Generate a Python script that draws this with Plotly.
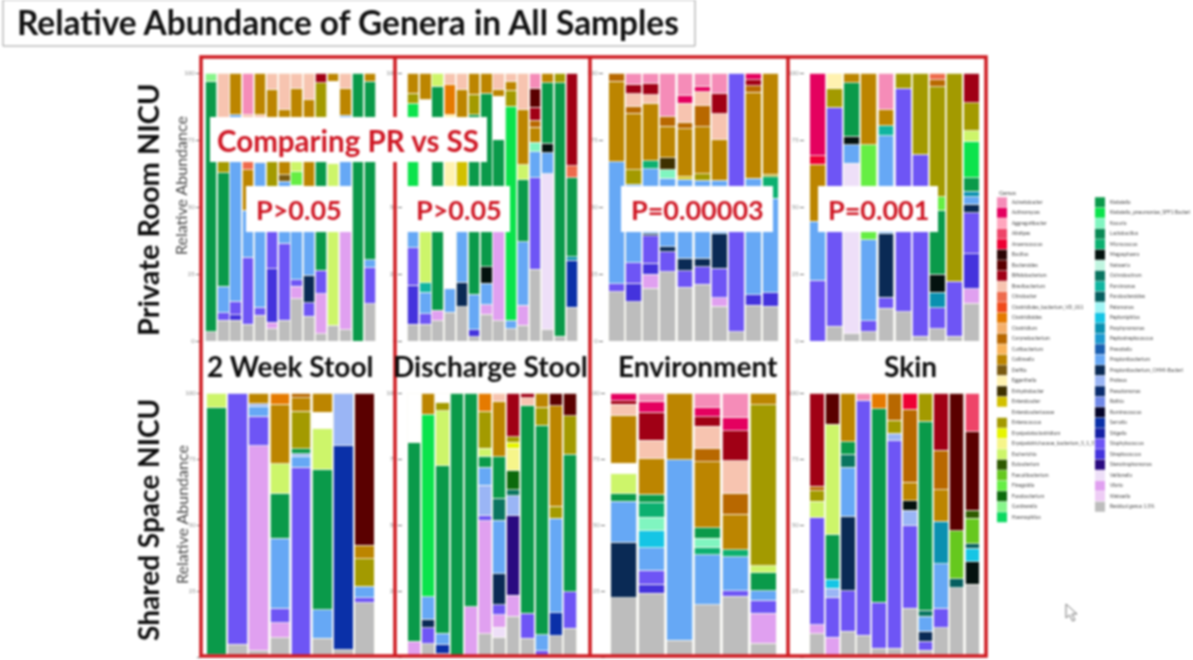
import plotly.graph_objects as go

# ---------- genera (legend order) ----------
GENERA_LEFT = ["Acinetobacter", "Actinomyces", "Aggregatibacter", "Alistipes", "Anaerococcus", "Bacillus",
               "Bacteroides", "Bifidobacterium", "Brevibacterium", "Citrobacter", "Clostridiales_bacterium_VD_011",
               "Clostridioides", "Clostridium", "Corynebacterium", "Cutibacterium", "Collinsella", "Delftia",
               "Eggerthella", "Enhydrobacter", "Enterobacter", "Enterobacteriaceae", "Enterococcus",
               "Erysipelatoclostridium", "Erysipelotrichaceae_bacterium_5_1_57", "Escherichia", "Eubacterium",
               "Faecalibacterium", "Finegoldia", "Fusobacterium", "Gardnerella", "Haemophilus"]
GENERA_RIGHT = ["Klebsiella", "Klebsiella_pneumoniae_SFF1 Bacteri", "Kocuria", "Lactobacillus", "Micrococcus",
                "Megasphaera", "Neisseria", "Ochrobactrum", "Parvimonas", "Parabacteroides", "Pelomonas",
                "Peptoniphilus", "Porphyromonas", "Peptostreptococcus", "Prevotella", "Propionibacterium",
                "Propionibacterium_CHMI-Bacteri", "Proteus", "Pseudomonas", "Rothia", "Ruminococcus", "Serratia",
                "Shigella", "Staphylococcus", "Streptococcus", "Stenotrophomonas", "Veillonella", "Vibrio",
                "Weissella", "Residual genus 1.5%"]
COLORS_LEFT = ["#F58CB8", "#E4005F", "#FFA6BE", "#EE4468", "#EE0033", "#2A0505", "#5A0000", "#A00015", "#F7C4B0",
               "#EE6B4C", "#F04A1A", "#E57A00", "#F5B06C", "#B86800", "#F9B45A", "#BC8500", "#7A5A10", "#FFF2B0",
               "#3E3000", "#D2C000", "#FFFFFF", "#A39A00", "#E6F500", "#F6F58A", "#CDF56A", "#2E5A00", "#66C81E",
               "#66EE44", "#0C6A0C", "#88F58C", "#0BD960"]
COLORS_RIGHT = ["#0A9A4A", "#0BE34C", "#80F5C0", "#0A8A55", "#0CB070", "#04120F", "#C0F5E0", "#0A7560", "#10B5A0",
                "#065F5F", "#A0F5F5", "#15C5E5", "#0A90B0", "#1E9AD0", "#1A5FB0", "#66A8F5", "#0A2A55", "#9AB5F5",
                "#0A2C6E", "#7088E8", "#04042A", "#0A30A8", "#1520A5", "#6E55F5", "#4433DD", "#2A0A80", "#EEDFF8",
                "#E0A0F0", "#EECCF5", "#BDBDBD"]
GENUS_COLOR = dict(zip(GENERA_LEFT + GENERA_RIGHT, COLORS_LEFT + COLORS_RIGHT))

# short names for the genera used in the stacks below
PK, AC, AL, AN, DR, CR, PE, CI, OR, BW, GO, DL = ("Acinetobacter", "Actinomyces", "Alistipes", "Anaerococcus",
    "Bacteroides", "Bifidobacterium", "Brevibacterium", "Citrobacter", "Clostridioides", "Corynebacterium",
    "Collinsella", "Delftia")
EG, EH, EB, WH, OL, EC, EY, LM, EU, FA, FI, FU, GA = ("Eggerthella", "Enhydrobacter", "Enterobacter",
    "Enterobacteriaceae", "Enterococcus", "Erysipelatoclostridium", "Erysipelotrichaceae_bacterium_5_1_57",
    "Escherichia", "Eubacterium", "Faecalibacterium", "Finegoldia", "Fusobacterium", "Gardnerella")
GR, BR, MT, MI, BK, PM, OC, PA, PB, PC, CY, TB = ("Klebsiella", "Klebsiella_pneumoniae_SFF1 Bacteri", "Kocuria",
    "Micrococcus", "Megasphaera", "Neisseria", "Ochrobactrum", "Parvimonas", "Parabacteroides", "Pelomonas",
    "Peptoniphilus", "Porphyromonas")
BL, NV, PW, RO, RU, SE, PU, IN, DI, PL, LV, GY = ("Propionibacterium", "Propionibacterium_CHMI-Bacteri", "Proteus",
    "Rothia", "Ruminococcus", "Serratia", "Staphylococcus", "Streptococcus", "Stenotrophomonas", "Veillonella",
    "Vibrio", "Residual genus 1.5%")

# ---------- stacks: each bar lists (genus, abundance) from the bottom up ----------
PR_STOOL_2WK = [
    [(GY, 3.5), (GR, 93.5), (GA, 3)],
    [(GY, 7.7), (PU, 2.7), (BL, 10), (GR, 42), (OL, 4), (GO, 10.5), (PE, 22.5)],
    [(GY, 7.7), (IN, 2), (PU, 5), (BL, 69.5), (GO, 15.5)],
    [(GY, 6.2), (PU, 25), (BL, 17.5), (GO, 15), (CI, 3), (PE, 17.5), (PK, 15.6)],
    [(GY, 9.6), (PU, 3), (BL, 54), (PE, 17.8), (GO, 15.6)],
    [(GY, 4.6), (LV, 2.5), (IN, 20), (PU, 13.7), (BL, 17), (OL, 9.4), (GO, 27), (PE, 6)],
    [(GY, 7.7), (PU, 28.7), (BL, 23), (DL, 2.5), (GO, 24.1), (PE, 13.7)],
    [(GY, 15.8), (LV, 4.6), (PU, 2.5), (BL, 35.3), (FI, 5), (LM, 3.7), (GO, 27.5), (PE, 5.6)],
    [(GY, 9.2), (PU, 5), (NV, 10.3), (BL, 33), (GO, 32.4), (PE, 10)],
    [(GY, 2.7), (LV, 15), (PU, 8.7), (GR, 40.5), (OL, 29.3), (CR, 3.7)],
    [(GY, 5.9), (LM, 60.5), (WH, 30.5), (GO, 3.1)],
    [(GY, 4.2), (LV, 36.5), (BL, 43), (GO, 10), (PE, 5.6)],
    [(GR, 100)],
    [(GY, 13.7), (PU, 13.3), (BL, 3), (GR, 66), (GO, 3)],
]
PR_STOOL_DIS = [
    [(GY, 6.2), (IN, 14.6), (PU, 14), (BL, 5.9), (BR, 48), (OL, 3.7), (GO, 7.5)],
    [(GY, 6.2), (PU, 4), (BL, 8), (PA, 3.4), (LM, 19), (WH, 49), (GO, 10)],
    [(GY, 7.5), (LV, 4), (GR, 83.5), (LM, 5)],
    [(GY, 10.8), (BL, 8.7), (WH, 21.2), (EG, 43.6), (OR, 11.2), (PE, 4.4)],
    [(GY, 12.7), (NV, 9), (BL, 30), (EB, 15), (GO, 26.5), (PE, 6)],
    [(GY, 1.5), (IN, 2.7), (BL, 13.2), (GR, 67), (OL, 7.5), (GO, 8)],
    [(GY, 10), (LV, 3.4), (BL, 8), (BK, 6.2), (GR, 64.2), (GO, 7.5)],
    [(GY, 7.5), (LV, 33.3), (GR, 34.3), (WH, 16.2), (GO, 2.7), (PE, 6)],
    [(GY, 4.6), (BL, 3.1), (BR, 79.8), (OL, 6), (GO, 3.4), (PE, 3)],
    [(GY, 5.9), (LV, 7.5), (BL, 23.7), (GR, 23), (LM, 5.6), (GO, 20.8), (PE, 13.5)],
    [(GY, 26.5), (PU, 33.7), (BL, 9.6), (MT, 3.5), (GO, 5.6), (BW, 2.6), (CR, 4.7), (DR, 7.1), (PK, 5.6)],
    [(GY, 4.2), (PL, 57.7), (BL, 7.9), (BK, 3.4), (GR, 22.4), (GO, 3.7)],
    [(GY, 1.7), (GR, 93.9), (OL, 3.7)],
    [(GY, 12.5), (SE, 17.5), (TB, 1.2), (GR, 29.2), (CI, 4.6), (CR, 34.3)],
]
PR_ENV = [
    [(GY, 18.3), (PU, 3.1), (BL, 45.5), (GO, 29.9), (BW, 3.1)],
    [(GY, 14.6), (IN, 6.9), (PU, 7.5), (BL, 29.3), (OL, 5.4), (GO, 21), (BW, 2.5), (PE, 4.6), (CR, 3.7), (PK, 4.1)],
    [(GY, 19.6), (LV, 5.4), (IN, 4), (PU, 10.2), (NV, 1), (BL, 24), (MI, 3.1), (GO, 21.4), (PE, 3.1), (CR, 4.1), (PK, 4.1)],
    [(GY, 25.8), (PU, 7.5), (NV, 1.9), (BL, 25.6), (MT, 3.1), (EH, 4.4), (GO, 11.8), (BW, 3.7), (PK, 16.2)],
    [(GY, 20), (PU, 6.2), (NV, 4.7), (BL, 29.4), (EB, 1.2), (GO, 17.7), (BW, 2.5), (PE, 7.1), (AC, 2.7), (PK, 8.5)],
    [(GY, 21.2), (PU, 6.5), (NV, 3.2), (BL, 29), (OL, 2.5), (GO, 17.5), (BW, 7.9), (PE, 5.2), (AC, 2), (PK, 5)],
    [(GY, 13), (LV, 3.1), (PU, 11), (NV, 12.8), (BL, 20), (GO, 15.2), (PE, 9.6), (CR, 7.5), (PK, 7.7)],
    [(GY, 3.4), (PU, 96.6)],
    [(GY, 13.3), (IN, 4), (BL, 43.5), (GO, 32), (BW, 2.5), (CR, 2.2), (AC, 2.5)],
    [(GY, 13), (IN, 5), (BL, 35.2), (MI, 8.1), (OL, 1), (GO, 37.7)],
]
PR_SKIN = [
    [(PU, 22.7), (BL, 22), (GO, 21.2), (AN, 3.1), (AC, 30.9)],
    [(GY, 5.5), (PU, 81.7), (OL, 7), (EG, 5.8)],
    [(GY, 2.7), (PL, 63.6), (BL, 6.9), (BK, 3.2), (GR, 19.8), (GO, 3.7)],
    [(GY, 3.4), (PU, 4.1), (BL, 30.3), (FI, 35.5), (GO, 26.7)],
    [(GY, 12.1), (PU, 4.2), (NV, 23.7), (BL, 36.3), (PA, 3.7), (GO, 6), (PK, 13.7)],
    [(GY, 10.8), (PU, 83), (OL, 5.6)],
    [(GY, 1.7), (PU, 68), (OL, 30.3)],
    [(GY, 4.6), (PU, 7.7), (TB, 5.7), (BK, 6.6), (GR, 23.7), (FI, 5), (OL, 40.7), (BW, 2.5), (CI, 2.5)],
    [(GY, 1.7), (PU, 20.6), (OL, 77.7)],
    [(GY, 14), (LV, 5.4), (IN, 13), (PU, 15.3), (NV, 3.1), (BL, 2.9), (TB, 2), (GR, 5), (BR, 13.5), (LM, 4), (OL, 10.4), (CR, 11)],
]
SS_STOOL_2WK = [
    [(GY, 1), (GR, 93.5), (LM, 5.5)],
    [(GY, 4.8), (PU, 95)],
    [(GY, 2.3), (LV, 77.3), (PU, 11), (BL, 3.8), (PW, 1), (GO, 4)],
    [(GY, 7.3), (LV, 5.7), (PU, 5.4), (BL, 26.5), (GR, 17), (LM, 11.1), (GO, 22.5), (OR, 4.3)],
    [(PU, 70.7), (BL, 4.2), (PW, 0.8), (GR, 1.9), (OL, 14), (GO, 5), (BW, 1.8)],
    [(GY, 6.9), (BL, 10.6), (GR, 52.2), (LM, 15.2), (WH, 5.9), (GO, 7.2)],
    [(GY, 2.8), (SE, 76.4), (PW, 19.8)],
    [(GY, 20), (PU, 1.9), (BL, 4.3), (OL, 10.1), (GO, 5), (DR, 56.4)],
]
SS_STOOL_DIS = [
    [(LV, 6), (GR, 75.4), (WH, 18.6)],
    [(GY, 5), (PU, 5.9), (NV, 3.2), (BL, 8.2), (BR, 67.9), (GO, 7.8)],
    [(GY, 1.3), (SE, 3.5), (BL, 4), (GR, 62.8), (LM, 20.6), (OL, 3.2), (WH, 3.4)],
    [(GR, 100)],
    [(LV, 18.9), (GR, 80.8)],
    [(GY, 8.6), (LV, 41.9), (PU, 2.1), (PW, 11), (BL, 6.7), (GR, 4.2), (LM, 3), (OL, 13.6), (OR, 6.8)],
    [(GY, 7.3), (PL, 3.8), (LV, 4.5), (PU, 3.8), (NV, 11.4), (BL, 19.8), (OC, 8.2), (GR, 15.4), (GO, 20.6), (PE, 3)],
    [(GY, 14.9), (LV, 7.6), (DI, 29), (PW, 7.2), (OC, 2.3), (FU, 7.1), (EY, 8), (EC, 2.1), (OL, 2.1), (CR, 15.9)],
    [(GY, 6.9), (PU, 9.3), (GR, 77.4), (PE, 2.9), (CR, 1.8)],
    [(PU, 2.3), (BL, 6), (GR, 77.4), (OL, 6.7), (GO, 5.3)],
    [(GY, 7.8), (SE, 8.5), (BL, 34.7), (OL, 4.4), (GO, 37), (DR, 4.7)],
    [(GY, 10.7), (PU, 13.5), (GR, 51), (OL, 14.1), (DR, 8.5)],
]
SS_ENV = [
    [(GY, 21.5), (NV, 20.2), (BL, 14.8), (GR, 2.8), (LM, 7.2), (WH, 3.8), (GO, 17.4), (PE, 4), (CR, 1.3), (AC, 2.8)],
    [(GY, 22.7), (IN, 3.3), (PU, 5), (BL, 8), (CY, 6.1), (MT, 4.8), (MI, 5.4), (GR, 2.8), (GO, 12.6), (PE, 6.7), (CR, 10), (AC, 3.8), (PK, 3)],
    [(GY, 6.3), (BL, 67.5), (GO, 24.9)],
    [(GY, 18.9), (BL, 18), (MI, 2.8), (MT, 3.2), (GR, 3.8), (GO, 24), (BW, 4.7), (PE, 8), (CR, 3.5), (AC, 3.3), (PK, 5.3)],
    [(GY, 22), (PU, 2.1), (BL, 12.2), (MI, 2.5), (GO, 13), (BW, 7.6), (PE, 11.7), (CR, 11), (AC, 4.8), (PK, 8.8)],
    [(GY, 5), (LV, 10.9), (PU, 4.8), (BL, 3.4), (GR, 6.6), (LM, 2.5), (OL, 58.7), (GO, 4.3)],
]
SS_SKIN = [
    [(GY, 8.6), (LV, 3.3), (PU, 39.5), (LM, 5.9), (OL, 4), (BW, 1.6), (CR, 34.3)],
    [(LV, 7.2), (PU, 14.5), (PW, 3.4), (CY, 3.2), (GR, 16.4), (LM, 40), (DR, 11.4)],
    [(GY, 9.5), (PU, 14.8), (NV, 27.5), (BL, 18), (OC, 4.7), (GR, 4.7), (GO, 17.9)],
    [(GY, 8.2), (PU, 88), (PK, 2.8)],
    [(GY, 3.2), (PU, 17.3), (GR, 72.2), (OR, 5.9)],
    [(GY, 3.2), (PU, 77), (PW, 2.9), (OL, 4.8), (BW, 10.1)],
    [(GY, 17.9), (PU, 30.3), (PW, 5.7), (BK, 3.4), (GO, 6.9), (BW, 26.8), (AN, 5.9)],
    [(GY, 2.5), (PU, 3.3), (NV, 3.8), (BL, 5.4), (OC, 2.3), (GR, 69.8), (OL, 10.4)],
    [(GY, 10.7), (PU, 7.2), (BL, 16.2), (TB, 15.5), (GO, 11.6), (BW, 14.4), (CR, 21)],
    [(GY, 25.9), (PB, 3.4), (FA, 17.9), (DR, 51.4)],
    [(GY, 26.5), (BK, 8.3), (CY, 5), (PB, 1.6), (FA, 9.2), (EU, 3), (DR, 28.7), (AL, 14.1)],
]

COLUMN_LABELS = ["2 Week Stool", "Discharge Stool", "Environment", "Skin"]
ROW_LABELS = ["Private Room NICU", "Shared Space NICU"]
P_LABELS = ["P>0.05", "P>0.05", "P=0.00003", "P=0.001"]
COMPARE_LABEL = "Comparing PR vs SS"
TITLE = "Relative Abundance of Genera in All Samples"
Y_TICKS = [0, 25, 50, 75, 100]

# ---------- page layout (pixels) ----------
W, H = 1193, 660
RED = "#CE1A20"
LABEL_RED = "#CF1724"
SANS = "Lato, 'Open Sans', sans-serif"


def fx(px):
    return px / W


def fy(py):
    return 1 - py / H


PANELS = [
    (PR_STOOL_2WK, 205, 376, 73, 341), (PR_STOOL_DIS, 407, 578, 73, 341),
    (PR_ENV, 608, 779, 73, 341), (PR_SKIN, 809, 980, 73, 341),
    (SS_STOOL_2WK, 206, 375, 393, 657), (SS_STOOL_DIS, 407, 577, 393, 657),
    (SS_ENV, 610, 777, 393, 657), (SS_SKIN, 809, 980, 393, 657),
]

fig = go.Figure()
layout = dict(
    width=W, height=H, margin=dict(l=0, r=0, t=0, b=0, pad=0, autoexpand=False), paper_bgcolor="white",
    plot_bgcolor="white", barmode="stack", barnorm="percent", bargap=0.07, showlegend=False, font=dict(family=SANS),
)

for idx, (bars, left, right, top, bottom) in enumerate(PANELS, start=1):
    n = len(bars)
    step = (right - left) / n
    pad = 4  # room between the axis and the first bar
    xname, yname = f"x{idx}", f"y{idx}"
    # the second upper panel's 75 label sits underneath the white "Comparing" box
    tick_text = ["" if (idx == 2 and t == 75) else str(t) for t in Y_TICKS]
    layout[f"xaxis{idx}"] = dict(domain=[fx(left - pad), fx(right)], range=[-0.5 - pad / step, n - 0.5], visible=False,
                                 anchor=yname, fixedrange=True)
    layout[f"yaxis{idx}"] = dict(domain=[fy(bottom), fy(top)], range=[0, 100], tickvals=Y_TICKS, ticktext=tick_text,
                                 anchor=xname, ticks="outside", ticklen=4, tickwidth=1, tickcolor="#777",
                                 showgrid=False, zeroline=False, showline=False,
                                 tickfont=dict(size=6, color="#8a8a8a"), fixedrange=True)
    for layer in range(max(len(b) for b in bars)):
        xs, ys, cs, names = [], [], [], []
        for i, bar in enumerate(bars):
            if layer < len(bar):
                genus, value = bar[layer]
                xs.append(i)
                ys.append(value)
                cs.append(GENUS_COLOR[genus])
                names.append(genus)
        fig.add_trace(go.Bar(x=xs, y=ys, xaxis=xname, yaxis=yname, customdata=names,
                             marker=dict(color=cs, line=dict(color="#FBFBF4", width=0.8)),
                             hovertemplate="%{customdata}: %{y:.1f}%<extra></extra>"))

# legend drawn as its own little scatter panel
ROW_PITCH = 10.5
LEG_TOP = 197
layout["xaxis9"] = dict(domain=[fx(990), fx(1193)], range=[990, 1193], visible=False, anchor="y9", fixedrange=True)
layout["yaxis9"] = dict(domain=[fy(525), fy(LEG_TOP)], range=[(525 - LEG_TOP) / ROW_PITCH - 0.5, -0.5], visible=False,
                        anchor="x9", fixedrange=True)
for names, colors, x in ((GENERA_LEFT, COLORS_LEFT, 1002), (GENERA_RIGHT, COLORS_RIGHT, 1100)):
    fig.add_trace(go.Scatter(
        x=[x] * len(names), y=list(range(len(names))), xaxis="x9", yaxis="y9", mode="markers+text",
        marker=dict(symbol="square", size=10, color=colors, line=dict(width=0)),
        text=["  " + n for n in names], textposition="middle right", textfont=dict(size=5, color="#4a4a4a"),
        hoverinfo="text", cliponaxis=False))

shapes = []


def rect(x0, y0, x1, y1, fill="rgba(0,0,0,0)", line="rgba(0,0,0,0)", width=0):
    shapes.append(dict(type="rect", xref="paper", yref="paper", x0=fx(x0), x1=fx(x1), y0=fy(y1), y1=fy(y0),
                       fillcolor=fill, line=dict(color=line, width=width), layer="above"))


# title box, red frames
rect(3, 0, 695, 46, fill="white", line="#9a9a9a", width=1)
rect(201, 57, 986, 656, line=RED, width=3.5)
for vx in (395, 590, 788):
    shapes.append(dict(type="line", xref="paper", yref="paper", x0=fx(vx), x1=fx(vx), y0=fy(656), y1=fy(57),
                       line=dict(color=RED, width=3.5), layer="above"))
# white label boxes
rect(210, 117, 487, 162, fill="white")
P_BOXES = [(246, 352), (407, 510), (621, 773), (818, 938)]
for x0, x1 in P_BOXES:
    rect(x0, 186, x1, 232, fill="white")
# mouse pointer
cursor = [(1066, 604), (1066, 618), (1069.5, 615), (1072.5, 621), (1075, 620), (1072, 614), (1077, 614)]
shapes.append(dict(type="path", xref="paper", yref="paper",
                   path="M " + " L ".join(f"{fx(a):.5f},{fy(b):.5f}" for a, b in cursor) + " Z",
                   fillcolor="white", line=dict(color="#777", width=1), layer="above"))
layout["shapes"] = shapes

ann = []


def label(px, py, text, size, color="#111", angle=0, anchor="center", bold=False):
    ann.append(dict(xref="paper", yref="paper", x=fx(px), y=fy(py), text=f"<b>{text}</b>" if bold else text,
                    showarrow=False, xanchor=anchor, yanchor="middle", textangle=angle,
                    font=dict(size=size, color=color, family=SANS)))


label(15, 22, TITLE, 33.4, color="#111", anchor="left", bold=True)
label(348, 140, COMPARE_LABEL, 29.5, color=LABEL_RED, bold=True)
for (x0, x1), t in zip(P_BOXES, P_LABELS):
    label((x0 + x1) / 2, 209, t, 27, color=LABEL_RED, bold=True)
for px, t in zip((290, 490, 698, 910), COLUMN_LABELS):
    label(px, 366, t, 28, color="#0d0d0d", bold=True)
label(148, 210, ROW_LABELS[0], 29, color="#0d0d0d", angle=-90, bold=True)
label(148, 520, ROW_LABELS[1], 28, color="#0d0d0d", angle=-90, bold=True)
label(181, 186, "Relative Abundance", 16, color="#444", angle=-90)
label(181, 515, "Relative Abundance", 16, color="#444", angle=-90)
label(997, 192, "Genus", 6, color="#444", anchor="left")
layout["annotations"] = ann

fig.update_layout(**layout)
fig.write_html("out.html", config=dict(displayModeBar=False),
               post_script="document.body.style.margin='0';document.body.style.overflow='hidden';"
                           "document.querySelector('.plotly-graph-div').style.filter='blur(0.85px)';")
